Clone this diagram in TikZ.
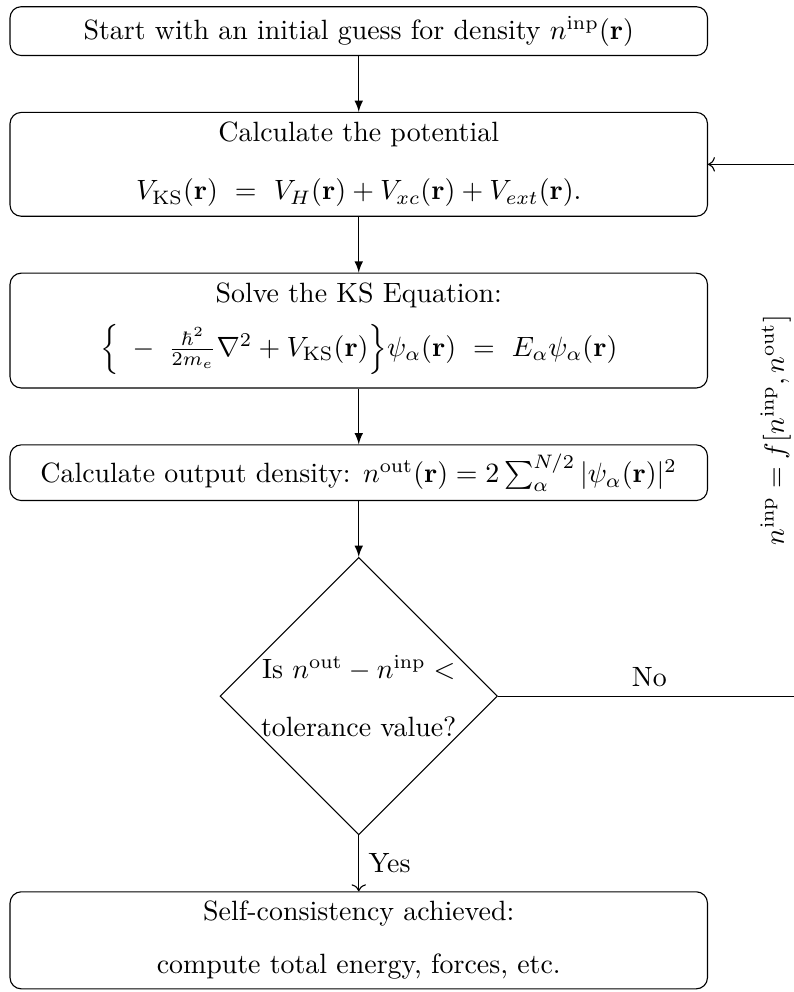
\documentclass[tikz,border=0pt]{standalone}
\usepackage{amsmath,amssymb}
\usepackage{tikz}
\usetikzlibrary{arrows.meta, positioning, calc, shapes.geometric}

\begin{document}
\begin{tikzpicture}[node distance=20pt,
    stage/.style={draw, rounded corners, minimum width=250pt, align=center},
    check/.style={draw, diamond, aspect=1, inner sep=0pt, align=center}]
  \node[stage] (init) {Start with an initial guess for density $n^{\mathrm{inp}}(\mathbf{r})$};
  \path[use as bounding box] ($(init.north west)+(-3.4pt,2.2pt)$) rectangle ++(284.6pt,-355.6pt);
  \node[stage, below=of init] (pot) {Calculate the potential\\[9pt]
    $V_{\mathrm{KS}}(\mathbf{r})\ =\ V_H(\mathbf{r}) + V_{xc}(\mathbf{r}) + V_{ext}(\mathbf{r}).$};
  \node[stage, below=of pot] (ks) {Solve the KS Equation:\\[5pt]
    $\Big\{\;-\;\frac{\hbar^2}{2m_e}\nabla^2 + V_{\mathrm{KS}}(\mathbf{r})\Big\}\psi_\alpha(\mathbf{r})\ =\ E_\alpha\psi_\alpha(\mathbf{r})$\rule[-8pt]{0pt}{8pt}};
  \node[stage, below=of ks] (dens) {Calculate output density: $n^{\mathrm{out}}(\mathbf{r}) = 2\sum_{\alpha}^{N/2}|\psi_\alpha(\mathbf{r})|^2$};
  \node[check, below=of dens] (conv) {Is $n^{\mathrm{out}}-n^{\mathrm{inp}}<$\\[9pt] tolerance value?};
  \node[stage, below=of conv] (done) {Self-consistency achieved:\\[7pt] compute total energy, forces, etc.};

  \draw[-latex] (init) -- (pot);
  \draw[-latex] (pot) -- (ks);
  \draw[-latex] (ks) -- (dens);
  \draw[-latex] (dens) -- (conv);
  \draw[->] (conv) -- node[right] {Yes} (done);

  % feedback loop
  \coordinate[right=33.2pt of pot.east] (back);
  \coordinate (turn) at (back |- conv.east);
  \draw[->] (conv.east) -- node[above] {No} (turn)
    -- node[above, sloped] {$n^{\mathrm{inp}} = f[n^{\mathrm{inp}}, n^{\mathrm{out}}]$} (back) -- (pot.east);
\end{tikzpicture}
\end{document}
